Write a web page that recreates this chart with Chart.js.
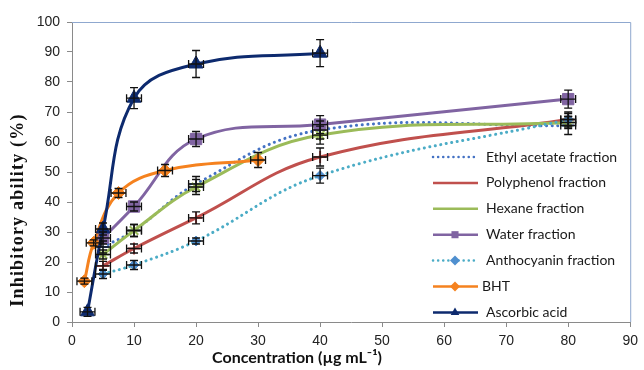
<!DOCTYPE html>
<html>
<head>
<meta charset="utf-8">
<script src="https://cdn.jsdelivr.net/npm/chart.js@4/dist/chart.umd.min.js"></script>
<style>
  body { margin: 0; background: #fff; }
  #wrap { width: 644px; height: 370px; }
</style>
</head>
<body>
<div id="wrap"><canvas id="chart" width="644" height="370"></canvas></div>
<script>
// Series data (x = concentration, y = inhibitory ability %)
const ethylX = [5, 10, 20, 40, 80];
const ethylY = [25, 30.5, 46, 64, 65.5];
const ethylErr = [2, 2, 2.5, 3, 3];

const polyX = [5, 10, 20, 40, 80];
const polyY = [18.7, 24.5, 34.7, 55, 67.5];
const polyErr = [1.5, 1.5, 2, 3, 2.5];

const hexX = [5, 10, 20, 40, 80];
const hexY = [22.5, 30.5, 45, 62.3, 66.5];
const hexErr = [1.5, 2, 2.5, 3, 2];

const waterX = [5, 10, 20, 40, 80];
const waterY = [28, 38.5, 61, 65.8, 74.3];
const waterErr = [2, 1.5, 2.5, 3, 3];

const anthoX = [5, 10, 20, 40, 80];
const anthoY = [16, 19, 27, 48.8, 67.5];
const anthoErr = [1.5, 1.5, 1, 2.5, 2];

const bhtX = [2, 3.5, 7.5, 15, 30];
const bhtY = [13.6, 26.4, 43, 50.5, 54];
const bhtErr = [1, 1, 1.5, 2, 2.5];

const ascX = [2.5, 5, 10, 20, 40];
const ascY = [3.4, 31, 74.6, 86, 89.6];
const ascErr = [1.5, 2, 3.5, 4.5, 4.5];

const xErrAll = 1.2;

const seriesNames = ['Ethyl acetate fraction', 'Polyphenol fraction', 'Hexane fraction',
  'Water fraction', 'Anthocyanin fraction', 'BHT', 'Ascorbic acid'];

function pts(xs, ys) {
  return xs.map((x, i) => ({ x: x, y: ys[i] }));
}

function makeSet(i, xs, ys, errs, color, markColor, style, radius, dotted) {
  return {
    label: seriesNames[i],
    data: pts(xs, ys),
    errors: errs,
    borderColor: color,
    backgroundColor: markColor,
    pointBorderColor: markColor,
    pointBackgroundColor: markColor,
    pointStyle: style,
    pointRadius: radius,
    pointBorderWidth: style === 'cross' || style === 'star' || style === 'line' ? 2 : 1,
    borderWidth: 3,
    borderDash: dotted ? [0.1, 5.5] : [],
    borderCapStyle: dotted ? 'round' : 'butt',
    showLine: true,
    tension: 0.4,
    order: 10 - i
  };
}

const datasets = [
  makeSet(0, ethylX, ethylY, ethylErr, '#4472C4', '#4472C4', 'line', 6, true),
  makeSet(1, polyX, polyY, polyErr, '#C0504D', '#C0504D', 'cross', 6, false),
  makeSet(2, hexX, hexY, hexErr, '#9BBB59', '#9BBB59', 'star', 6, false),
  makeSet(3, waterX, waterY, waterErr, '#8064A2', '#8064A2', 'rect', 8, false),
  makeSet(4, anthoX, anthoY, anthoErr, '#4BACC6', '#4F8FCF', 'rectRot', 5, true),
  makeSet(5, bhtX, bhtY, bhtErr, '#F5821F', '#F5821F', 'rectRot', 6.5, false),
  makeSet(6, ascX, ascY, ascErr, '#0D2A6E', '#0D2A6E', 'triangle', 8, false)
];

// error bars (vertical + horizontal, with caps)
const errorBars = {
  id: 'errorBars',
  afterDatasetsDraw(chart) {
    const ctx = chart.ctx;
    const xs = chart.scales.x, ys = chart.scales.y;
    ctx.save();
    ctx.strokeStyle = '#111';
    ctx.lineWidth = 1.3;
    chart.data.datasets.forEach((ds, di) => {
      ds.data.forEach((p, i) => {
        const e = ds.errors[i];
        const cx = xs.getPixelForValue(p.x), cy = ys.getPixelForValue(p.y);
        const t = ys.getPixelForValue(p.y + e), b = ys.getPixelForValue(p.y - e);
        const l = xs.getPixelForValue(p.x - xErrAll), r = xs.getPixelForValue(p.x + xErrAll);
        ctx.beginPath();
        ctx.moveTo(cx, t); ctx.lineTo(cx, b);
        ctx.moveTo(cx - 4, t); ctx.lineTo(cx + 4, t);
        ctx.moveTo(cx - 4, b); ctx.lineTo(cx + 4, b);
        ctx.moveTo(l, cy); ctx.lineTo(r, cy);
        ctx.moveTo(l, cy - 4); ctx.lineTo(l, cy + 4);
        ctx.moveTo(r, cy - 4); ctx.lineTo(r, cy + 4);
        ctx.stroke();
      });
    });
    ctx.restore();
  }
};

// frame, titles and legend drawn by hand to sit where the original puts them
const decor = {
  id: 'decor',
  afterDraw(chart) {
    const ctx = chart.ctx;
    const a = chart.chartArea;
    ctx.save();
    // top and right frame
    ctx.strokeStyle = '#8FA8CF';
    ctx.lineWidth = 1;
    ctx.beginPath();
    ctx.moveTo(a.left, a.top + 0.5); ctx.lineTo(a.right + 0.5, a.top + 0.5);
    ctx.lineTo(a.right + 0.5, a.bottom);
    ctx.stroke();

    // y title
    ctx.fillStyle = '#111';
    ctx.font = 'bold 18px "Liberation Serif", serif';
    ctx.letterSpacing = '1.2px';
    ctx.textAlign = 'center';
    ctx.textBaseline = 'middle';
    ctx.translate(18, 210);
    ctx.rotate(-Math.PI / 2);
    ctx.fillText('Inhibitory ability (%)', 0, 0);
    ctx.setTransform(1, 0, 0, 1, 0, 0);
    ctx.letterSpacing = '0px';

    // x title
    ctx.font = 'bold 16px Lato, sans-serif';
    ctx.fillText('Concentration (\u00b5g mL\u207b\u00b9)', 297, 358);

    // legend
    const top = 157, step = 25.9;
    ctx.textAlign = 'left';
    ctx.font = '14px Lato, sans-serif';
    chart.data.datasets.forEach((ds, i) => {
      const y = top + i * step;
      ctx.save();
      ctx.strokeStyle = ds.borderColor;
      ctx.lineWidth = 2.5;
      ctx.setLineDash(ds.borderDash.length ? [0.1, 5] : []);
      ctx.lineCap = ds.borderCapStyle;
      ctx.beginPath();
      ctx.moveTo(433, y); ctx.lineTo(478, y);
      ctx.stroke();
      ctx.restore();
      ctx.save();
      ctx.fillStyle = ds.pointBackgroundColor;
      ctx.strokeStyle = ds.pointBorderColor;
      ctx.lineWidth = ds.pointBorderWidth;
      Chart.helpers.drawPoint(ctx, { pointStyle: ds.pointStyle, radius: ds.pointStyle === 'line' ? 5 : 5, rotation: 0 }, 455, y);
      ctx.restore();
      ctx.fillStyle = '#1a1a1a';
      ctx.fillText(ds.label, i === 5 ? 482 : 486, y);
    });
    ctx.restore();
  }
};

const tickFont = { family: '"Liberation Sans", Arial, sans-serif', size: 14 };

new Chart(document.getElementById('chart'), {
  type: 'scatter',
  data: { datasets: datasets },
  options: {
    responsive: false,
    animation: false,
    layout: { padding: { top: 22, right: 9, left: 0, bottom: 0 } },
    plugins: { legend: { display: false }, tooltip: { enabled: false } },
    scales: {
      x: {
        type: 'linear', min: 0, max: 90,
        ticks: { stepSize: 10, color: '#222', font: tickFont, padding: 6 },
        grid: { drawOnChartArea: false, drawTicks: true, tickLength: 5, color: '#8a8a8a' },
        border: { color: '#8a8a8a' },
        afterFit(s) { s.height = 48; }
      },
      y: {
        type: 'linear', min: 0, max: 100,
        ticks: { stepSize: 10, color: '#222', font: tickFont, padding: 7 },
        grid: { drawOnChartArea: false, drawTicks: true, tickLength: 5, color: '#8a8a8a' },
        border: { color: '#8a8a8a' },
        afterFit(s) { s.width = 72; }
      }
    }
  },
  plugins: [errorBars, decor]
});
</script>
</body>
</html>
